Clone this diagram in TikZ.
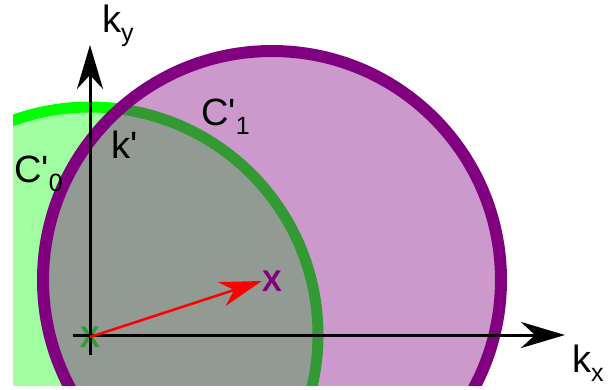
\documentclass[tikz,border=0pt]{standalone}
\usepackage{fontspec}
\setmainfont{Liberation Sans}[Ligatures=TeXOff]
\usepackage{tikz}
\usetikzlibrary{arrows.meta}

\definecolor{lightgreen}{RGB}{160,255,160}
\definecolor{brightgreen}{RGB}{0,255,0}
\definecolor{darkgreen}{RGB}{51,153,51}
\definecolor{violet}{RGB}{128,0,128}

\newcommand{\lowsub}[1]{\raisebox{-9pt}{\fontsize{25}{25}\selectfont #1}}

\begin{document}
\begin{tikzpicture}[x=1pt, y=-1pt,
  axis/.style={line width=3pt, -{Stealth[length=44pt, width=26pt, inset=14pt]}},
  vec/.style={line width=2.5pt, red, -{Stealth[length=42pt, width=25pt, inset=13pt]}},
  lbl/.style={anchor=base west, inner sep=0pt, font=\fontsize{38}{40}\selectfont},
  ptmark/.style={inner sep=0pt, font=\fontsize{30}{30}\selectfont\bfseries}
]
\useasboundingbox (0,0) rectangle (614,389);

% Circles
\begin{scope}
  \clip (13,0) rectangle (614,385);
  \fill[lightgreen] (90,335) circle (228);
  \draw[brightgreen, line width=11pt] (90,335) circle (228);
  \fill[violet, opacity=0.4] (272,280) circle (229);
  \draw[violet, line width=12pt] (272,280) circle (229);
\end{scope}

% Points
\node[ptmark, text=darkgreen] (origin) at (90,337) {X};
\node[ptmark, text=violet] (centre) at (272,281) {X};

% Axes
\coordinate (ybot) at (90,355);
\coordinate (ytop) at (90,45);
\coordinate (xleft) at (73,335);
\coordinate (xright) at (565,335);
\draw[axis] (ybot) -- (ytop);
\draw[axis] (xleft) -- (xright);

\draw[vec] (origin.center) -- (centre.west);

% Labels
\node[lbl] (ky) at (102,32) {k\lowsub{y}};
\node[lbl] (kx) at (572,372) {k\lowsub{x}};
\node[lbl] (kp) at (111,158) {k'};
\node[lbl] (c0) at (14,182) {C'\lowsub{0}};
\node[lbl] (c1) at (201,125) {C'\lowsub{1}};

\end{tikzpicture}
\end{document}
